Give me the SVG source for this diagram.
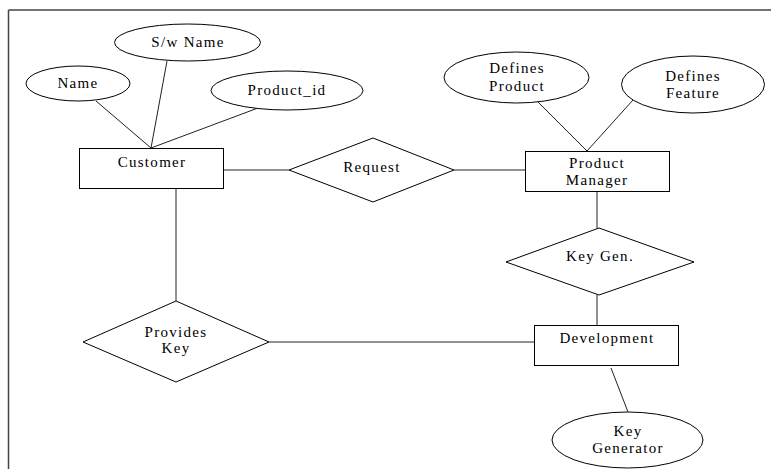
<svg xmlns="http://www.w3.org/2000/svg" width="771" height="469" viewBox="0 0 771 469">
<style>
.s{fill:#fff;stroke:#000;stroke-width:1}
.c line{stroke:#222;stroke-width:1}
.t text{font-size:15px;font-weight:normal;letter-spacing:1.3px;fill:#000;text-anchor:middle}
</style>
<rect width="771" height="469" fill="#fff"/>
<g id="frame" stroke="#444" stroke-width="1.5" fill="none">
<line x1="8.5" y1="10" x2="771" y2="10"/>
<line x1="8.5" y1="10" x2="8.5" y2="469"/>
</g>
<g class="c" id="connectors">
<line x1="96" y1="101" x2="151" y2="148"/>
<line x1="167" y1="61" x2="151" y2="148"/>
<line x1="258" y1="108" x2="151" y2="148"/>
<line x1="222" y1="170" x2="289" y2="170"/>
<line x1="454" y1="170" x2="525" y2="170"/>
<line x1="538" y1="102" x2="587" y2="151"/>
<line x1="633" y1="100" x2="587" y2="151"/>
<line x1="597" y1="191" x2="597" y2="228"/>
<line x1="597" y1="295" x2="597" y2="325"/>
<line x1="611" y1="368" x2="628" y2="412"/>
<line x1="176" y1="188" x2="176" y2="301"/>
<line x1="269" y1="342" x2="534" y2="342"/>
</g>
<g class="t" font-family="'Liberation Serif', 'DejaVu Serif', serif">
<g id="name"><ellipse class="s" cx="78" cy="83.5" rx="52" ry="17.5"/><text x="78" y="88">Name</text></g>
<g id="swname"><ellipse class="s" cx="187.5" cy="42.5" rx="73" ry="18.5"/><text x="188" y="47">S/w Name</text></g>
<g id="productid"><ellipse class="s" cx="287" cy="90.5" rx="76" ry="19.5"/><text x="287" y="95">Product_id</text></g>
<g id="customer"><rect class="s" x="79.5" y="148.5" width="144" height="40"/><text x="152" y="167">Customer</text></g>
<g id="request"><polygon class="s" points="289,170 373,138 454,170 373,202"/><text x="372" y="172">Request</text></g>
<g id="pm"><rect class="s" x="525.5" y="151.5" width="144" height="40"/><text x="597" y="168">Product</text><text x="597" y="185">Manager</text></g>
<g id="defprod"><ellipse class="s" cx="516.5" cy="77.5" rx="72.5" ry="25.5"/><text x="517" y="73">Defines</text><text x="517" y="91">Product</text></g>
<g id="deffeat"><ellipse class="s" cx="693" cy="84.5" rx="71.5" ry="28.5"/><text x="693" y="81">Defines</text><text x="693" y="98">Feature</text></g>
<g id="keygen"><polygon class="s" points="506,262 599,228 694,262 599,295"/><text x="600" y="261">Key Gen.</text></g>
<g id="development"><rect class="s" x="534.5" y="325.5" width="144" height="40"/><text x="607" y="343">Development</text></g>
<g id="keygenerator"><ellipse class="s" cx="627.5" cy="440" rx="75.5" ry="28"/><text x="628" y="436">Key</text><text x="628" y="453">Generator</text></g>
<g id="provideskey"><polygon class="s" points="83,342 176,301 269,342 176,382"/><text x="176" y="337">Provides</text><text x="176" y="353">Key</text></g>
</g>
</svg>
